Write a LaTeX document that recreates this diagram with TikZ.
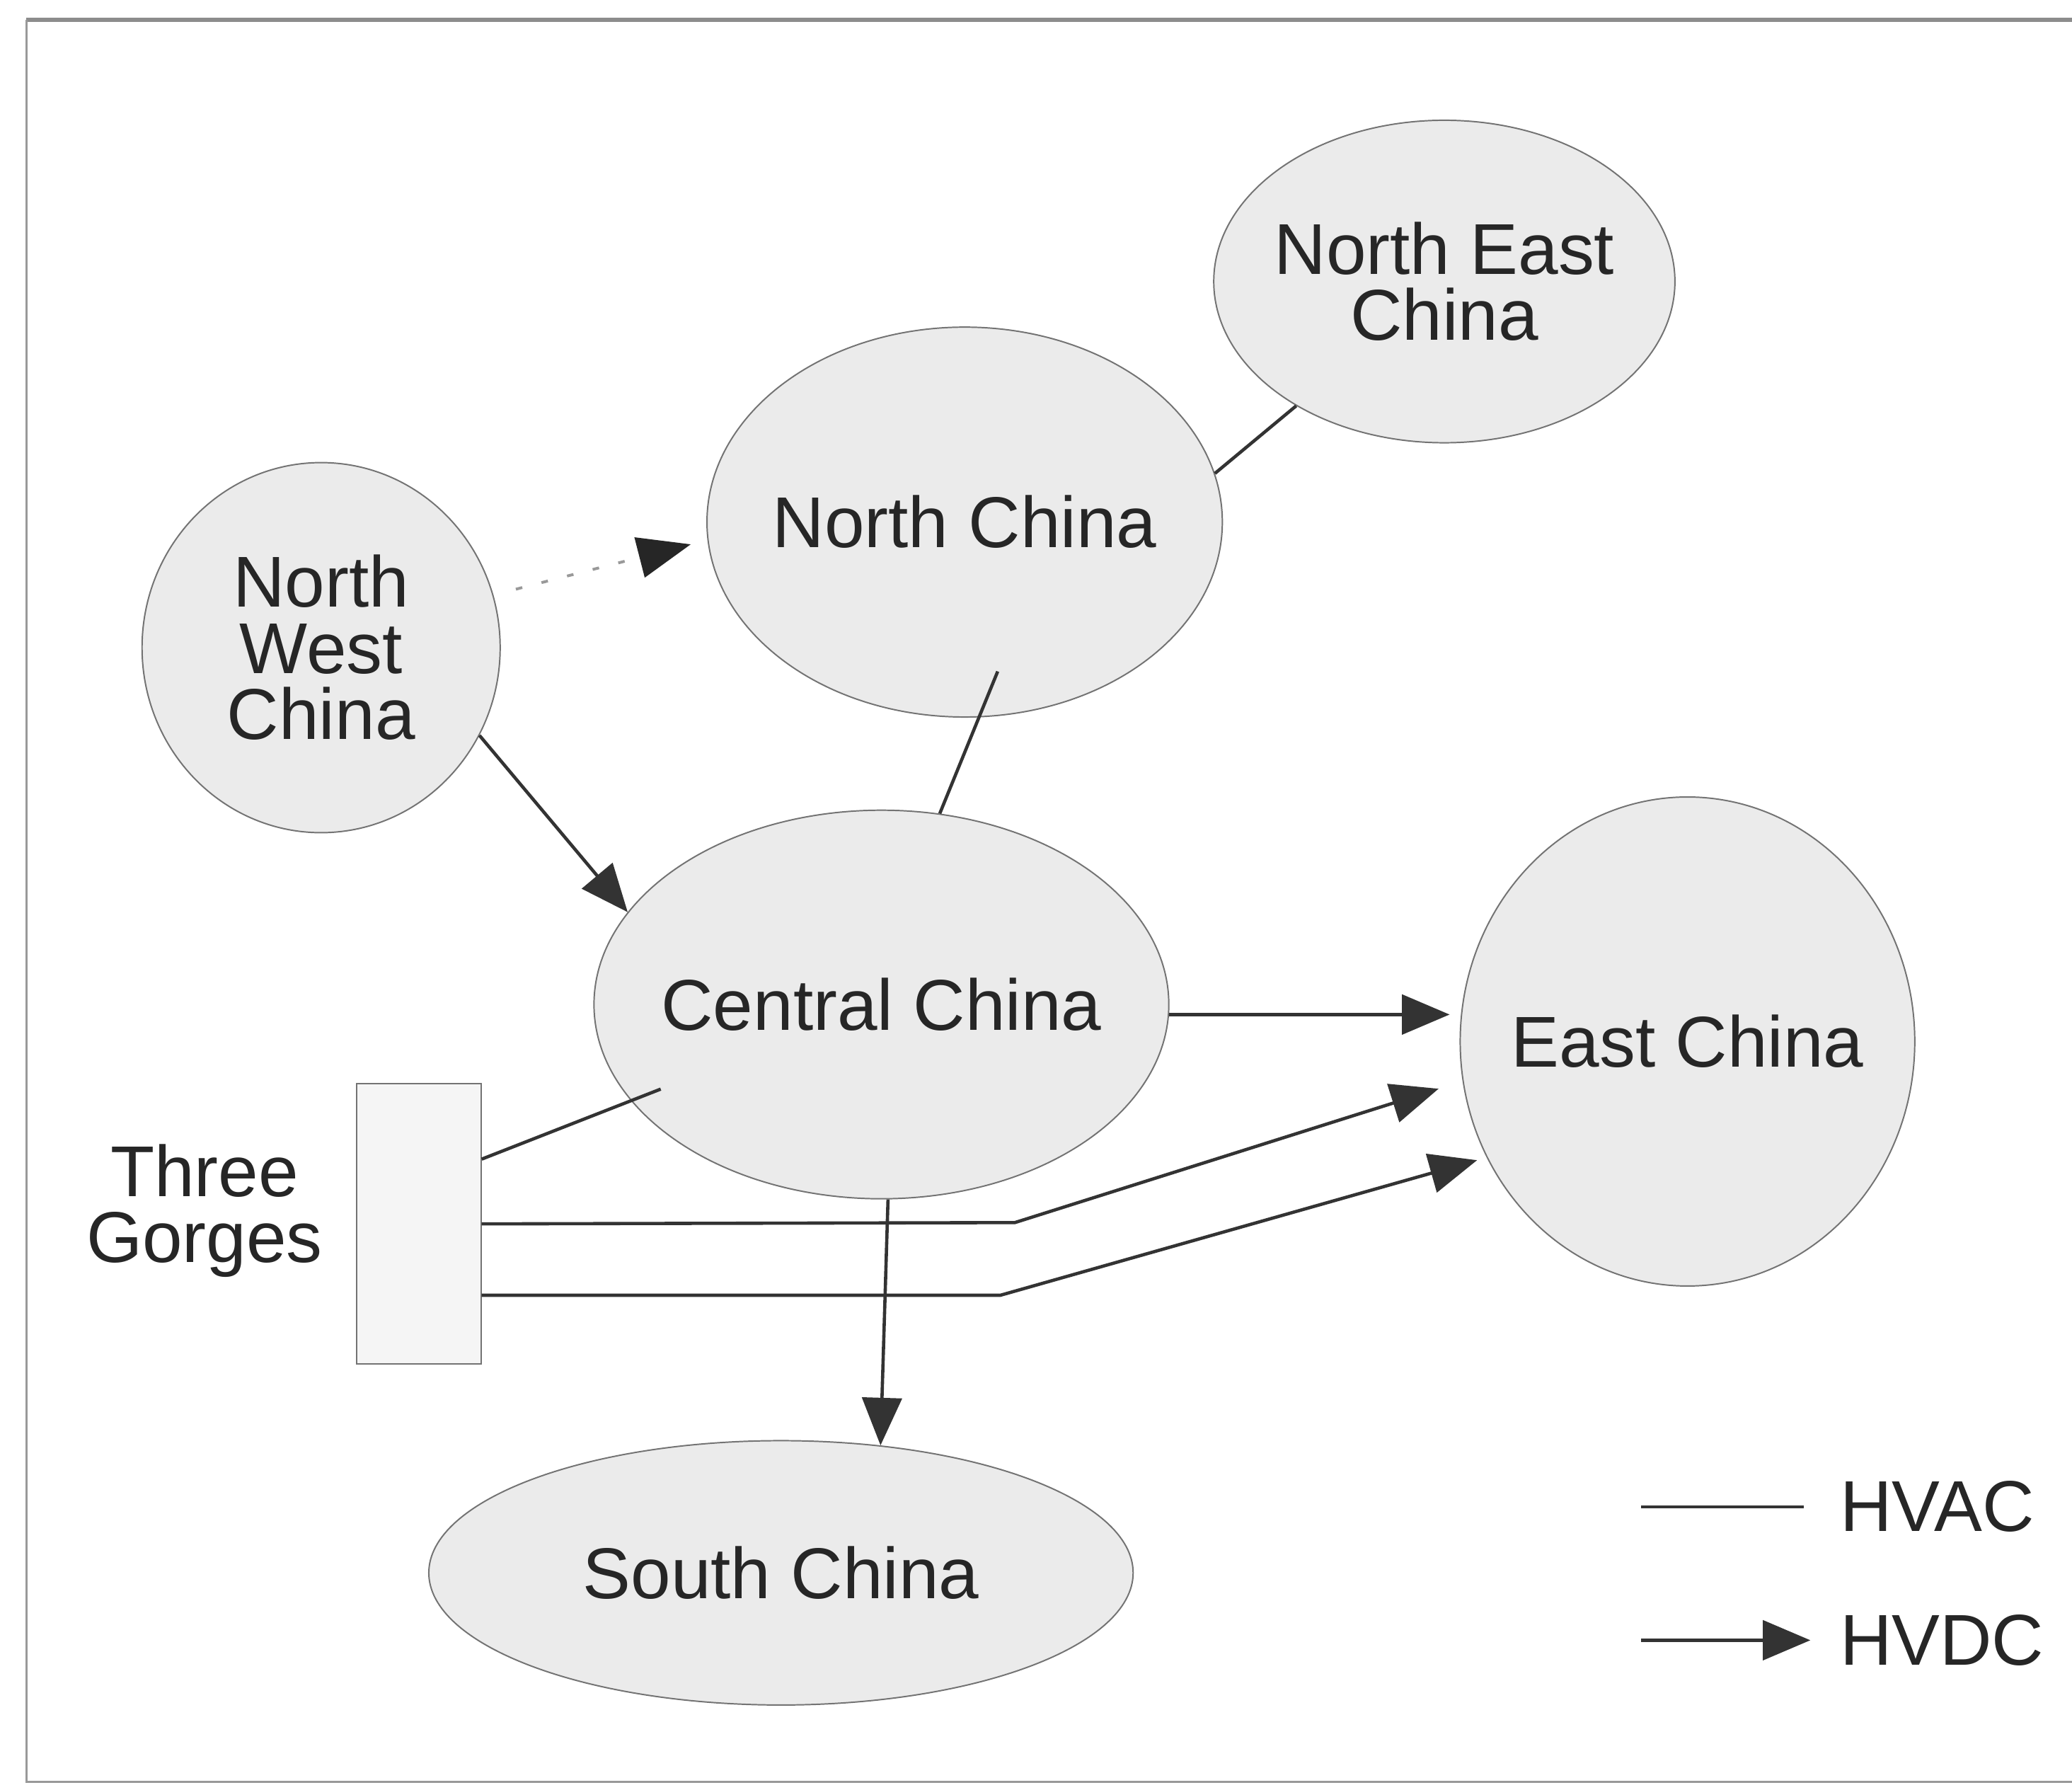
\documentclass[tikz,border=0pt]{standalone}
\usepackage{fontspec}
\setmainfont{Liberation Sans}
\usepackage{tikz}
\usetikzlibrary{shapes.geometric,arrows.meta,positioning,calc}

\begin{document}
\begin{tikzpicture}[
        region/.style={ellipse, draw=black!55, line width=0.6pt, fill=black!8, inner sep=-4mm,
            align=center, text=black!85, font=\fontsize{31}{28.5}\selectfont},
        gorge/.style={rectangle, draw=black!55, line width=0.6pt, fill=black!4,
            minimum width=1.88cm, minimum height=4.24cm},
        lbl/.style={inner sep=0pt, align=center, text=black!85, font=\fontsize{31}{28.5}\selectfont},
        hvac/.style={draw=black!80, line width=1.4pt},
        hvdc/.style={hvac, -{Triangle[length=0.72cm, width=0.6cm]}},
        dcline/.style={draw=black!40, line width=1.2pt, dash pattern=on 0.1cm off 0.3cm,
            -{Triangle[length=0.8cm, width=0.62cm, color=black!85]}}
    ]
                \useasboundingbox (0,0) rectangle (31.36,-27.08);

                % frame
                \draw[black!45, line width=2pt] (0.4,-0.3) -- (31.36,-0.3);
                \draw[black!40, line width=0.8pt] (0.4,-0.3) -- (0.4,-26.96) -- (31.36,-26.96);

                % regions
                \node[region, minimum width=6.98cm, minimum height=4.88cm] (nec) at (21.86,-4.26) {North East\\China};
                \node[region, minimum width=7.8cm, minimum height=5.9cm] (nc) at (14.6,-7.9) {North China};
                \node[region, minimum width=5.42cm, minimum height=5.6cm] (nwc) at (4.86,-9.8) {North\\West\\China};
                \node[region, minimum width=8.7cm, minimum height=5.88cm] (cc) at (13.34,-15.2) {Central China};
                \node[region, minimum width=6.88cm, minimum height=7.4cm] (ec) at (25.54,-15.76) {East China};
                \node[region, minimum width=10.66cm, minimum height=4cm] (sc) at (11.82,-23.8) {South China};

                \node[gorge] (tg) at (6.34,-18.52) {};
                \node[lbl, left=0.5cm of tg, yshift=0.2cm] (tgname) {Three\\Gorges};

                % HVAC links
                \draw[hvac] (nec.220) -- (nc.11);
                \draw[hvac] ([shift={(0.5,-2.26)}]nc.center) -- (cc.73);
                \draw[hvac] ([yshift=0.98cm]tg.east) -- ([shift={(-3.34,-1.28)}]cc.center);

                % HVDC links
                \draw[dcline, shorten <=0.35cm, shorten >=0.26cm] (nwc.17) -- (nc.184);
                \draw[hvdc] (nwc.331) -- (cc.160);
                \draw[hvdc, shorten >=0.15cm] (cc.-2) -- (cc.-2 -| ec.west);
                \draw[hvdc] ([xshift=0.1cm]cc.south) -- (sc.52);

                \coordinate (bendA) at (15.36,-18.5);
                \coordinate (bendB) at (15.14,-19.6);
                \draw[hvdc, shorten >=0.38cm] (tg.east) -- (bendA) -- (ec.190);
                \draw[hvdc, shorten >=0.15cm] ([yshift=-1.08cm]tg.east) -- (bendB) -- (ec.210);

                % legend
                \node[lbl, anchor=west] (hvac) at (27.84,-22.8) {HVAC};
                \node[lbl, anchor=west] (hvdc) at (27.84,-24.82) {HVDC};
                \draw[hvac] ([xshift=-3cm]hvac.west) -- ([xshift=-0.54cm]hvac.west);
                \draw[hvdc] ([xshift=-3cm]hvdc.west) -- ([xshift=-0.44cm]hvdc.west);

\end{tikzpicture}
\end{document}
